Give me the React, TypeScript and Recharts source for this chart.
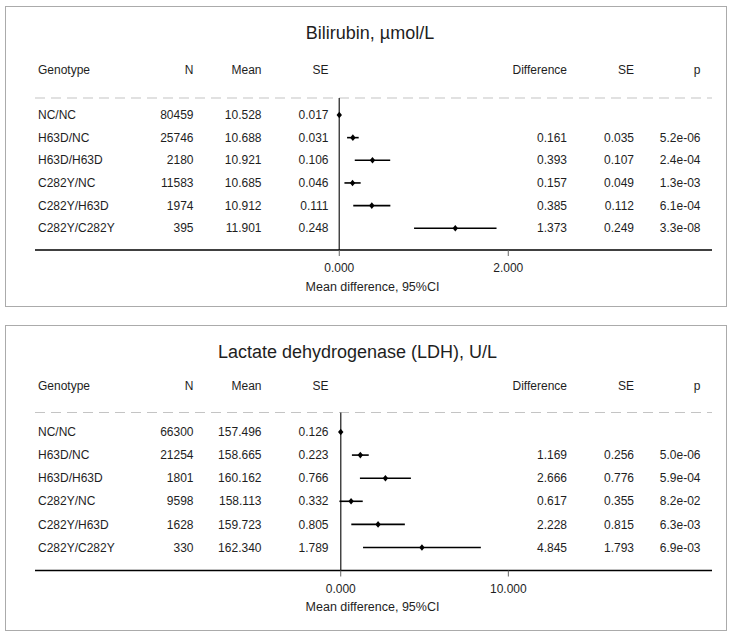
import React from 'react';
import { ScatterChart, Scatter, XAxis, YAxis, ErrorBar, ReferenceLine, Customized } from 'recharts';

// ---- shared categories / headers ----
const genotypes = ['NC/NC', 'H63D/NC', 'H63D/H63D', 'C282Y/NC', 'C282Y/H63D', 'C282Y/C282Y'];
const headers = ['Genotype', 'N', 'Mean', 'SE', 'Difference', 'SE', 'p'];

// ---- Bilirubin ----
const biliTitle = 'Bilirubin, \u00b5mol/L';
const biliN = [80459, 25746, 2180, 11583, 1974, 395];
const biliMean = [10.528, 10.688, 10.921, 10.685, 10.912, 11.901];
const biliSE = [0.017, 0.031, 0.106, 0.046, 0.111, 0.248];
const biliDiff = [null, 0.161, 0.393, 0.157, 0.385, 1.373];
const biliDiffSE = [null, 0.035, 0.107, 0.049, 0.112, 0.249];
const biliP = [null, 5.2e-6, 2.4e-4, 1.3e-3, 6.1e-4, 3.3e-8];
const biliTicks = [0, 2];

// ---- LDH ----
const ldhTitle = 'Lactate dehydrogenase (LDH), U/L';
const ldhN = [66300, 21254, 1801, 9598, 1628, 330];
const ldhMean = [157.496, 158.665, 160.162, 158.113, 159.723, 162.34];
const ldhSE = [0.126, 0.223, 0.766, 0.332, 0.805, 1.789];
const ldhDiff = [null, 1.169, 2.666, 0.617, 2.228, 4.845];
const ldhDiffSE = [null, 0.256, 0.776, 0.355, 0.815, 1.793];
const ldhP = [null, 5.0e-6, 5.9e-4, 8.2e-2, 6.3e-3, 6.9e-3];
const ldhTicks = [0, 10];

const axisLabel = 'Mean difference, 95%CI';
const Z = 1.96;

const FONT = '"Liberation Sans", Arial, Helvetica, sans-serif';
const TXT = '#1e1e1e';

const fmtP = (p: number) => {
  const [m, e] = p.toExponential(1).split('e');
  const sign = e[0] === '-' ? '-' : '+';
  const d = e.replace(/[+-]/, '').padStart(2, '0');
  return `${m}e${sign}${d}`;
};

// column x positions (left for genotype, right edges for others)
const COLS = { geno: 38, n: 193.5, mean: 261.5, se: 328.5, diff: 567, se2: 634, p: 700.5 };

const Diamond = (props: any) => {
  const { cx, cy } = props;
  if (cx == null || cy == null) return null;
  return (
    <path
      d={`M${cx},${cy - 3.3}L${cx + 2.7},${cy}L${cx},${cy + 3.3}L${cx - 2.7},${cy}Z`}
      fill="#000"
    />
  );
};

type PanelCfg = {
  title: string;
  n: number[];
  mean: number[];
  se: number[];
  diff: (number | null)[];
  diffSE: (number | null)[];
  p: (number | null)[];
  ticks: number[];
  xDomain: [number, number];
  yDomain: [number, number];
  height: number;
  marginTop: number;
  marginBottom: number;
  tickMargin: number;
  titleX: number;
  titleY: number;
  headerY: number;
  labelY: number;
};

const Panel = ({ cfg }: { cfg: PanelCfg }) => {
  const data = genotypes.map((g, i) => ({
    x: cfg.diff[i] == null ? 0 : (cfg.diff[i] as number),
    y: i + 1,
    err: cfg.diffSE[i] == null ? 0 : Z * (cfg.diffSE[i] as number),
  }));

  const renderRow = (props: any) => {
    const { y, payload } = props;
    const i = Math.round(Number(payload && payload.value)) - 1;
    if (!(i >= 0 && i < genotypes.length)) return <g />;
    const common = { y, dy: '0.35em', fontSize: 12, fontFamily: FONT, fill: TXT } as any;
    return (
      <g>
        <text {...common} x={COLS.geno} textAnchor="start">{genotypes[i]}</text>
        <text {...common} x={COLS.n} textAnchor="end">{cfg.n[i]}</text>
        <text {...common} x={COLS.mean} textAnchor="end">{cfg.mean[i].toFixed(3)}</text>
        <text {...common} x={COLS.se} textAnchor="end">{cfg.se[i].toFixed(3)}</text>
        {cfg.diff[i] != null && (
          <text {...common} x={COLS.diff} textAnchor="end">{(cfg.diff[i] as number).toFixed(3)}</text>
        )}
        {cfg.diffSE[i] != null && (
          <text {...common} x={COLS.se2} textAnchor="end">{(cfg.diffSE[i] as number).toFixed(3)}</text>
        )}
        {cfg.p[i] != null && (
          <text {...common} x={COLS.p} textAnchor="end">{fmtP(cfg.p[i] as number)}</text>
        )}
      </g>
    );
  };

  const Extras = () => {
    const hx = [COLS.geno, COLS.n, COLS.mean, COLS.se, COLS.diff, COLS.se2, COLS.p];
    return (
      <g>
        <text x={cfg.titleX} y={cfg.titleY} textAnchor="middle" fontSize={18} fontFamily={FONT} fill={TXT}>
          {cfg.title}
        </text>
        {headers.map((h, k) => (
          <text
            key={k}
            x={hx[k]}
            y={cfg.headerY}
            textAnchor={k === 0 ? 'start' : 'end'}
            fontSize={12}
            fontFamily={FONT}
            fill={TXT}
          >
            {h}
          </text>
        ))}
        <text x={372.5} y={cfg.labelY} textAnchor="middle" fontSize={12.5} fontFamily={FONT} fill={TXT}>
          {axisLabel}
        </text>
      </g>
    );
  };

  return (
    <ScatterChart
      width={735}
      height={cfg.height}
      margin={{ top: cfg.marginTop, right: 23, bottom: cfg.marginBottom, left: 34 }}
    >
      <XAxis
        type="number"
        dataKey="x"
        domain={cfg.xDomain}
        allowDataOverflow
        ticks={cfg.ticks}
        interval={0}
        tickFormatter={(v: number) => v.toFixed(3)}
        axisLine={{ stroke: '#000', strokeWidth: 1.3 }}
        tickLine={{ stroke: '#666', strokeWidth: 1 }}
        tickSize={6}
        tickMargin={cfg.tickMargin}
        tick={{ fontSize: 12, fill: TXT, fontFamily: FONT }}
        height={30}
      />
      <YAxis
        type="number"
        dataKey="y"
        domain={cfg.yDomain}
        allowDataOverflow
        reversed
        ticks={[1, 2, 3, 4, 5, 6]}
        interval={0}
        width={1}
        axisLine={false}
        tickLine={false}
        tick={renderRow}
      />
      <ReferenceLine
        y={cfg.yDomain[0]}
        stroke="#c4c4c4"
        strokeWidth={1.2}
        strokeDasharray="10 6"
        ifOverflow="visible"
      />
      <ReferenceLine x={0} stroke="#444" strokeWidth={1.5} ifOverflow="visible" />
      <Scatter data={data} shape={<Diamond />} isAnimationActive={false}>
        <ErrorBar dataKey="err" direction="x" width={0} stroke="#000" strokeWidth={1.6} isAnimationActive={false} />
      </Scatter>
      <Customized component={Extras} />
    </ScatterChart>
  );
};

const biliCfg: PanelCfg = {
  title: biliTitle,
  n: biliN,
  mean: biliMean,
  se: biliSE,
  diff: biliDiff,
  diffSE: biliDiffSE,
  p: biliP,
  ticks: biliTicks,
  xDomain: [-3.601, 4.411],
  yDomain: [0.25, 6.96],
  height: 318,
  marginTop: 98,
  marginBottom: 38,
  tickMargin: 7,
  titleX: 370,
  titleY: 39.4,
  headerY: 74.3,
  labelY: 290.5,
};

const ldhCfg: PanelCfg = {
  title: ldhTitle,
  n: ldhN,
  mean: ldhMean,
  se: ldhSE,
  diff: ldhDiff,
  diffSE: ldhDiffSE,
  p: ldhP,
  ticks: ldhTicks,
  xDomain: [-18.24, 22.15],
  yDomain: [0.156, 6.996],
  height: 319,
  marginTop: 94.5,
  marginBottom: 36.5,
  tickMargin: 8.3,
  titleX: 357.5,
  titleY: 40.1,
  headerY: 72.3,
  labelY: 293.2,
};

export default function App() {
  return (
    <div style={{ position: 'absolute', left: 0, top: 0, width: 735, height: 637, background: '#fff' }}>
      <div
        style={{
          position: 'absolute',
          left: 5,
          top: 6,
          width: 722,
          height: 301,
          border: '1px solid #ababab',
          boxSizing: 'border-box',
        }}
      />
      <div
        style={{
          position: 'absolute',
          left: 5,
          top: 325,
          width: 722,
          height: 306,
          border: '1px solid #ababab',
          boxSizing: 'border-box',
        }}
      />
      <div style={{ position: 'absolute', left: 0, top: 0 }}>
        <Panel cfg={biliCfg} />
      </div>
      <div style={{ position: 'absolute', left: 0, top: 318 }}>
        <Panel cfg={ldhCfg} />
      </div>
    </div>
  );
}
